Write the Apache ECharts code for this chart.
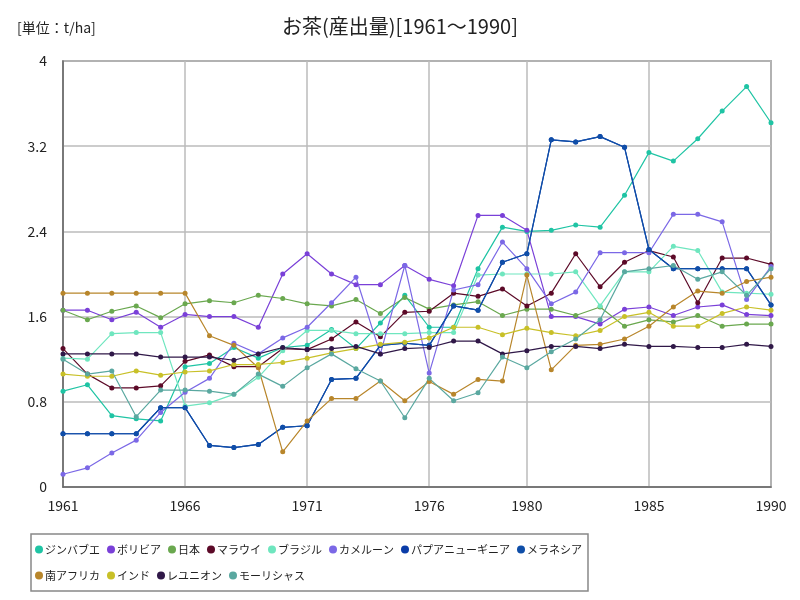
<!DOCTYPE html>
<html><head><meta charset="utf-8">
<script src="https://cdn.jsdelivr.net/npm/echarts@6/dist/echarts.min.js"></script>
<style>html,body{margin:0;padding:0;background:#fff}#c{width:800px;height:600px}</style>
</head><body><div id="c"></div>
<script>
const years = [];
for (let y = 1961; y <= 1990; y++) years.push(String(y));
const tickYears = ['1961','1966','1971','1976','1980','1985','1990'];

const zimbabwe = [0.90,0.96,0.67,0.64,0.62,1.13,1.16,1.31,1.21,1.31,1.33,1.48,1.30,1.54,1.80,1.50,1.50,2.05,2.44,2.40,2.41,2.46,2.44,2.74,3.14,3.06,3.27,3.53,3.76,3.42];
const bolivia = [1.66,1.66,1.57,1.64,1.50,1.62,1.60,1.60,1.50,2.00,2.19,2.00,1.90,1.90,2.08,1.95,1.89,2.55,2.55,2.41,1.60,1.60,1.53,1.67,1.69,1.61,1.69,1.71,1.62,1.61];
const japan = [1.66,1.57,1.65,1.70,1.59,1.72,1.75,1.73,1.80,1.77,1.72,1.70,1.76,1.63,1.78,1.67,1.71,1.74,1.61,1.67,1.67,1.61,1.69,1.51,1.57,1.55,1.61,1.51,1.53,1.53];
const malawi = [1.30,1.06,0.93,0.93,0.95,1.18,1.24,1.13,1.13,1.30,1.29,1.39,1.55,1.41,1.64,1.65,1.82,1.79,1.86,1.70,1.82,2.19,1.88,2.11,2.22,2.16,1.73,2.15,2.15,2.09];
const brazil = [1.21,1.20,1.44,1.45,1.45,0.76,0.79,0.87,1.03,1.28,1.47,1.47,1.44,1.44,1.44,1.45,1.45,1.99,2.00,2.00,2.00,2.02,1.70,2.02,2.02,2.26,2.22,1.83,1.82,1.81];
const cameroon = [0.12,0.18,0.32,0.44,0.70,0.89,1.02,1.35,1.25,1.40,1.50,1.73,1.97,1.25,2.08,1.07,1.85,1.90,2.30,2.05,1.72,1.83,2.20,2.20,2.20,2.56,2.56,2.49,1.76,2.07];
const papua = [0.50,0.50,0.50,0.50,0.745,0.745,0.39,0.37,0.40,0.56,0.575,1.01,1.02,1.33,1.35,1.33,1.70,1.66,2.11,2.19,3.26,3.24,3.29,3.19,2.23,2.05,2.05,2.05,2.05,1.71];
const melanesia = [0.50,0.50,0.50,0.50,0.745,0.745,0.39,0.37,0.40,0.56,0.575,1.01,1.02,1.33,1.35,1.33,1.70,1.66,2.11,2.19,3.26,3.24,3.29,3.19,2.23,2.05,2.05,2.05,2.05,1.71];
const southAfrica = [1.82,1.82,1.82,1.82,1.82,1.82,1.42,1.33,1.12,0.33,0.62,0.83,0.83,0.995,0.81,0.99,0.87,1.01,0.995,1.99,1.10,1.33,1.34,1.39,1.51,1.69,1.84,1.82,1.93,1.97];
const india = [1.06,1.04,1.04,1.09,1.05,1.08,1.09,1.15,1.15,1.17,1.21,1.26,1.30,1.34,1.36,1.40,1.50,1.50,1.43,1.49,1.45,1.42,1.47,1.60,1.64,1.51,1.51,1.63,1.69,1.66];
const reunion = [1.25,1.25,1.25,1.25,1.22,1.22,1.22,1.19,1.25,1.31,1.29,1.30,1.32,1.25,1.30,1.31,1.37,1.37,1.25,1.28,1.32,1.32,1.30,1.34,1.32,1.32,1.31,1.31,1.34,1.32];
const mauritius = [1.20,1.06,1.09,0.66,0.91,0.91,0.90,0.87,1.06,0.945,1.12,1.25,1.11,0.995,0.65,1.02,0.81,0.885,1.22,1.12,1.27,1.39,1.57,2.02,2.05,2.08,1.95,2.02,1.80,2.05];

const seriesNames = ['ジンバブエ','ボリビア','日本','マラウイ','ブラジル','カメルーン','パプアニューギニア','メラネシア','南アフリカ','インド','レユニオン','モーリシャス'];
const seriesData = [zimbabwe,bolivia,japan,malawi,brazil,cameroon,papua,melanesia,southAfrica,india,reunion,mauritius];
const colors = ['#1fc4a4','#7a40d8','#6aa84f','#5c0a28','#6fe6bf','#7b68e6','#0a3ca8','#0f4ea8','#b8862b','#c8c028','#301848','#5aa8a0'];

const font = '"Noto Sans CJK JP", sans-serif';
const tickFn = (idx, val) => tickYears.indexOf(val) >= 0;

const chart = echarts.init(document.getElementById('c'), null, {renderer:'canvas'});
chart.setOption({
  animation: false,
  color: colors,
  title: [
    {text: 'お茶(産出量)[1961～1990]', left: 'center', top: 11, textStyle: {fontFamily: font, fontSize: 20, fontWeight: 'normal', color: '#222'}},
    {text: '[単位：t/ha]', left: 12, top: 16, textStyle: {fontFamily: font, fontSize: 14, fontWeight: 'normal', color: '#222'}}
  ],
  grid: {left: 63, right: 29, top: 61, bottom: 113, show: true, borderColor: '#777', borderWidth: 1.5},
  legend: {
    left: 31, bottom: 9, width: 560, orient: 'horizontal',
    borderColor: '#888', borderWidth: 1.5, padding: [6, 6, 6, 4],
    icon: 'circle', itemWidth: 8, itemHeight: 8, itemGap: 7,
    textStyle: {fontFamily: font, fontSize: 11, lineHeight: 19, color: '#222', padding: [0,0,0,-3]},
    data: seriesNames
  },
  xAxis: {
    type: 'category', data: years, boundaryGap: false,
    axisLine: {lineStyle: {color: '#666', width: 1.5}},
    axisTick: {show: false},
    axisLabel: {interval: tickFn, fontFamily: font, fontSize: 14, color: '#222', margin: 12},
    splitLine: {show: true, interval: tickFn, lineStyle: {color: '#bbb', width: 1.5}}
  },
  yAxis: {
    type: 'value', min: 0, max: 4, interval: 0.8,
    axisLine: {show: true, lineStyle: {color: '#666', width: 1.5}},
    axisTick: {show: false},
    axisLabel: {fontFamily: font, fontSize: 14, color: '#222', margin: 16},
    splitLine: {show: true, lineStyle: {color: '#bbb', width: 1.5}}
  },
  series: seriesNames.map((n, i) => ({
    name: n, type: 'line', data: seriesData[i],
    symbol: 'circle', symbolSize: 5, lineStyle: {width: 1.2}, itemStyle: {color: colors[i]}
  }))
});
</script></body></html>
